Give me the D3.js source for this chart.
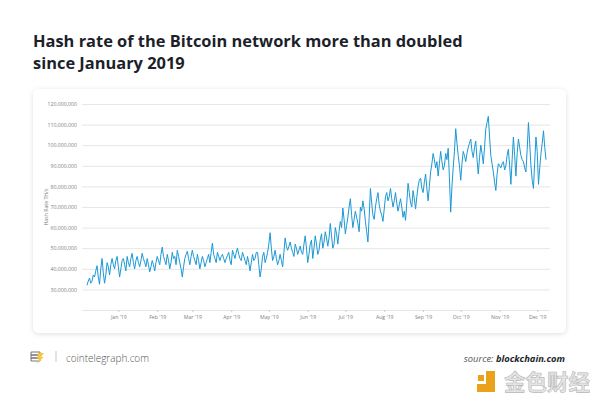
<!DOCTYPE html>
<html><head><meta charset="utf-8">
<script src="https://cdn.jsdelivr.net/npm/d3@7"></script>
<style>html,body{margin:0;padding:0;background:#fff;} svg{display:block;}</style>
</head><body>
<svg id="c" width="600" height="401"></svg>
<script>
// ---- data ----
const titleLines = ["Hash rate of the Bitcoin network more than doubled", "since January 2019"];
const yAxisTitle = "Hash Rate TH/s";
const startDate = "2018-12-07";   // first daily sample
const stepDays = 1;
// daily hash rate, millions of TH/s
const hashRateMillions = [
  32, 34, 35.5, 33, 34, 37, 36, 39, 41.5, 36, 32.5, 40, 45, 38, 33, 37, 43, 41, 37, 42,
  45, 42, 40, 44, 46, 41, 36, 40, 44, 45, 42, 39, 46, 43, 41, 45, 47.5, 43, 40, 44,
  46, 43, 41, 44, 47.5, 45, 43, 41, 45, 42, 38.5, 41, 44, 42, 39, 43, 46, 44, 42, 47,
  50.5, 46, 44, 42, 47, 44, 40, 43, 48, 45, 46, 42, 49, 46, 43, 40, 36, 41, 45, 47,
  48.5, 45, 42, 46, 49, 46, 44, 42, 47, 44, 40, 43, 46, 44, 41, 43, 45, 47, 43, 48,
  52.5, 47, 45, 43, 48, 46, 44, 46, 47, 45, 43, 45, 46.5, 48, 44, 42, 49, 47, 45, 48,
  50, 47, 45, 44, 48, 46, 44, 42, 46, 43, 39, 43, 47, 44, 45, 48, 48, 42, 36, 40,
  46, 48, 43, 45, 48, 52, 57.5, 50, 44, 46, 49, 45, 42, 44, 47, 44, 41, 48, 55, 51,
  49, 51, 53, 50, 48, 46, 52, 50, 47, 49, 51, 48, 47, 52, 56, 50, 43, 47, 52, 54,
  45, 50, 56, 52, 47, 49, 54, 57, 50, 53, 58, 55, 51, 55, 62, 56, 50, 52, 60, 57,
  52, 58, 63, 60, 69.5, 64, 57, 61, 65, 70, 74, 66, 60, 64, 68, 65, 62, 58, 70, 68,
  73, 69, 63, 58, 53, 65, 79, 72, 66, 64, 70, 74, 77, 71, 68, 66, 63, 69, 75, 77,
  73, 75, 79, 74, 70, 73, 77, 72, 68, 71, 74, 70, 65, 68, 63.5, 72, 81.5, 77, 72, 70,
  78, 74, 69, 75, 80, 83, 84, 79, 77, 82, 86, 79, 73, 80, 87, 91, 96, 93, 89, 92,
  85, 91, 97, 92, 88, 90, 96, 93, 98.5, 84, 67.5, 80, 89, 97, 108, 101, 95, 90, 83, 91,
  97, 95, 92, 96, 99, 101, 103, 97, 94, 99, 102, 93, 86, 94, 100, 96, 91, 99, 108, 111,
  114, 104, 95, 91, 87, 82, 78, 86, 91, 90, 89, 91, 92, 88, 90, 95, 98, 90, 81, 93,
  104, 95, 85, 96, 103, 99, 95, 93, 92, 89, 87, 98, 111, 101, 90, 83, 79, 92, 104, 97,
  81, 89, 96, 101, 107, 99, 93
];
const yTickValues = [30e6, 40e6, 50e6, 60e6, 70e6, 80e6, 90e6, 100e6, 110e6, 120e6];
const yDomain = [20e6, 120e6];
const xTickMonths = ["2019-01-01","2019-02-01","2019-03-01","2019-04-01","2019-05-01","2019-06-01",
                     "2019-07-01","2019-08-01","2019-09-01","2019-10-01","2019-11-01","2019-12-01"];
const brandText = "cointelegraph.com";
const sourcePrefix = "source: ";
const sourceName = "blockchain.com";
const watermarkText = "金色财经";

// ---- build ----
const parse = d3.utcParse("%Y-%m-%d");
const t0 = parse(startDate);
const data = hashRateMillions.map((v, i) => ({date: d3.utcDay.offset(t0, i * stepDays), value: v * 1e6}));

const svg = d3.select("#c");
const defs = svg.append("defs");
const f = defs.append("filter").attr("id", "sh").attr("x", "-5%").attr("y", "-5%").attr("width", "110%").attr("height", "115%");
f.append("feDropShadow").attr("dx", 0).attr("dy", 1).attr("stdDeviation", 2.5).attr("flood-color", "#000").attr("flood-opacity", 0.13);

svg.append("rect").attr("width", 600).attr("height", 401).attr("fill", "#fff");

// title
const tg = svg.append("g").attr("font-family", "'Open Sans', sans-serif").attr("font-weight", 700).attr("fill", "#1d1f2a");
const t1 = tg.append("text").attr("x", 33).attr("y", 47).attr("font-size", 16).text(titleLines[0]);
const w1 = t1.node().getComputedTextLength();
const fs = 16 * 430 / w1;
t1.attr("font-size", fs);
tg.append("text").attr("x", 33).attr("y", 69).attr("font-size", fs).text(titleLines[1]);

// card
svg.append("rect").attr("x", 33).attr("y", 89).attr("width", 533).attr("height", 244).attr("rx", 6)
  .attr("fill", "#fff").attr("filter", "url(#sh)");

const x = d3.scaleUtc().domain([data[0].date, data[data.length - 1].date]).range([87, 546]);
const y = d3.scaleLinear().domain(yDomain).range([310, 104]);

// gridlines
svg.append("g").attr("transform", "translate(82,0)")
  .call(d3.axisLeft(y).tickValues([yDomain[0]].concat(yTickValues)).tickSize(-(550 - 82)).tickFormat(""))
  .call(g => g.select(".domain").remove())
  .call(g => g.selectAll("line").attr("stroke", "#e6e6e6").attr("stroke-width", 1));

// y labels
svg.append("g").attr("transform", "translate(78,0)")
  .call(d3.axisLeft(y).tickValues(yTickValues).tickSize(0).tickPadding(1).tickFormat(d3.format(",")))
  .call(g => g.select(".domain").remove())
  .call(g => g.selectAll("text").attr("font-family", "'Open Sans', sans-serif").attr("font-size", 5.2).attr("fill", "#808080"));

// y title
svg.append("text").attr("transform", "translate(48,207) rotate(-90)").attr("text-anchor", "middle")
  .attr("font-family", "'Open Sans', sans-serif").attr("font-size", 5.2).attr("fill", "#808080").text(yAxisTitle);

// x axis
svg.append("g").attr("transform", "translate(0,310)")
  .call(d3.axisBottom(x).tickValues(xTickMonths.map(parse)).tickSize(2).tickPadding(3).tickFormat(d3.utcFormat("%b '%y")))
  .call(g => g.select(".domain").remove())
  .call(g => g.selectAll("line").attr("stroke", "#ccc"))
  .call(g => g.selectAll("text").attr("font-family", "'Open Sans', sans-serif").attr("font-size", 5.2).attr("fill", "#808080"));

// line
svg.append("path").datum(data)
  .attr("fill", "none").attr("stroke", "#1b98d4").attr("stroke-width", 1).attr("stroke-linejoin", "round")
  .attr("d", d3.line().x(d => x(d.date)).y(d => y(d.value)));

// footer: logo
const logo = svg.append("g").attr("transform", "translate(30,350)");
logo.append("path").attr("d", "M1,2 h9 v3 h-9 z M1,5 h9 v3 h-9 z M1,8 h9 v3 h-9 z")
  .attr("fill", "none").attr("stroke", "#666").attr("stroke-width", 0.9);
logo.append("path").attr("d", "M8,3 L14,3 L11,7 L13.5,7 L7,14 L9,8.5 L7,8.5 Z").attr("fill", "#f5c640");
svg.append("line").attr("x1", 56).attr("x2", 56).attr("y1", 351).attr("y2", 362).attr("stroke", "#bbb").attr("stroke-width", 0.8);
const bt = svg.append("text").attr("x", 66).attr("y", 361.5).attr("font-family", "'Open Sans', sans-serif").attr("font-weight", 300)
  .attr("font-size", 10.5).attr("fill", "#555").text(brandText);
bt.attr("textLength", 83).attr("lengthAdjust", "spacingAndGlyphs");

// source
const st = svg.append("text").attr("x", 565).attr("y", 361.5).attr("text-anchor", "end")
  .attr("font-family", "'Open Sans', sans-serif").attr("font-style", "italic").attr("font-size", 9.4);
st.append("tspan").attr("fill", "#555").text(sourcePrefix);
st.append("tspan").attr("fill", "#1d1f2a").attr("font-weight", 700).text(sourceName);

// watermark
const wm = svg.append("g").attr("transform", "translate(477,371)");
wm.append("path").attr("d", "M9,0 h9 v21 h-18 v-8 h9 z").attr("fill", "#e8a21c");
wm.append("rect").attr("x", 1).attr("y", 4).attr("width", 6).attr("height", 6).attr("fill", "#e8a21c");
svg.append("text").attr("x", 504).attr("y", 390).attr("font-family", "'Noto Sans CJK SC', sans-serif").attr("font-weight", 700)
  .attr("font-size", 21.5).attr("fill", "#e4e4e4").attr("stroke", "#b8b8b8").attr("stroke-width", 0.6).text(watermarkText);
</script>
</body></html>
